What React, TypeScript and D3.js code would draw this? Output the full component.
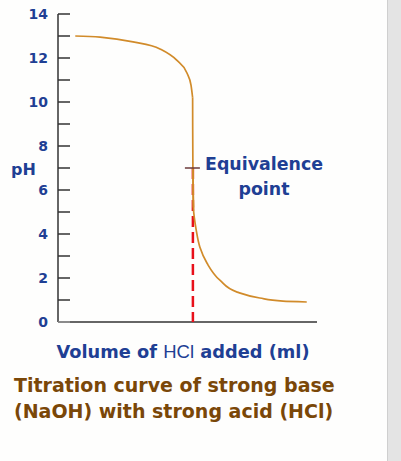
import React from "react";
import * as d3 from "d3";

const upperVolume = [3.2, 7.8, 13.9, 18.9, 22.0, 23.9, 24.65, 24.95, 25.0];
const upperPH = [13.0, 12.95, 12.73, 12.41, 11.9, 11.32, 10.77, 10.2, 7.0];
const lowerVolume = [25.0, 25.1, 25.6, 26.3, 27.6, 30.0, 33.2, 37.4, 41.7, 46.1];
const lowerPH = [7.0, 5.2, 4.2, 3.4, 2.68, 1.9, 1.36, 1.09, 0.95, 0.91];
const majorTicks = [0, 2, 4, 6, 8, 10, 12, 14];
const minorTicks = [1, 3, 5, 7, 9, 11, 13];
const equivalence = { volume: 25.0, pH: 7.0 };

export default function App() {
  const W = 401, H = 461;
  const x = d3.scaleLinear().domain([0, 48]).range([58, 317]);
  const y = d3.scaleLinear().domain([0, 14]).range([322, 14]);
  const line = d3.line<[number, number]>().x(d => x(d[0])).y(d => y(d[1])).curve(d3.curveMonotoneY);
  const lineUpper = d3.line<[number, number]>().x(d => x(d[0])).y(d => y(d[1])).curve(d3.curveMonotoneX);
  const upPts = upperVolume.slice(0, 8).map((v, i) => [v, upperPH[i]] as [number, number]);
  const lowPts = lowerVolume.slice(1).map((v, i) => [v, lowerPH[i + 1]] as [number, number]);
  const blue = "#1f3f94";
  const font = "DejaVu Sans, Verdana, sans-serif";
  const ex = x(equivalence.volume), ey = y(equivalence.pH);
  return (
    <svg width={W} height={H} style={{ position: "absolute", left: 0, top: 0 }} fontFamily={font}>
      <rect width={W} height={H} fill="#fefefd" />
      <rect x={387} y={0} width={14} height={H} fill="#e4e4e4" />
      <line x1={387.5} x2={387.5} y1={0} y2={H} stroke="#cfcfcf" />
      {/* axes */}
      <line x1={x(0)} x2={x(0)} y1={y(14)} y2={y(0)} stroke="#333" strokeWidth={1.5} />
      <line x1={x(0)} x2={317} y1={y(0)} y2={y(0)} stroke="#333" strokeWidth={1.5} />
      {[...majorTicks, ...minorTicks].map(t => (
        <line key={"t" + t} x1={x(0)} x2={x(0) + 12} y1={y(t)} y2={y(t)} stroke={t === 0 ? "#999" : "#333"} strokeWidth={1.5} />
      ))}
      {majorTicks.map(t => (
        <text key={"l" + t} x={48} y={y(t) + 5} textAnchor="end" fontSize={14} fontWeight="bold" fill={blue}>{t}</text>
      ))}
      <text x={11} y={175} fontSize={16} fontWeight="bold" fill={blue}>pH</text>
      {/* equivalence */}
      <line x1={ex} x2={ex} y1={ey} y2={y(0)} stroke="#e8101a" strokeWidth={2.5} strokeDasharray="11,5" />
      {/* curve */}
      <path d={lineUpper(upPts) ?? ""} fill="none" stroke="#d18b2a" strokeWidth={1.7} />
      <path d={line([[upperVolume[7], upperPH[7]], [equivalence.volume, equivalence.pH], [lowerVolume[1], lowerPH[1]]]) ?? ""} fill="none" stroke="#d18b2a" strokeWidth={1.7} />
      <path d={line([[equivalence.volume, equivalence.pH], ...lowPts]) ?? ""} fill="none" stroke="#d18b2a" strokeWidth={1.7} />
      <line x1={ex - 8} x2={ex + 7} y1={ey} y2={ey} stroke="#6b3a3a" strokeWidth={1.5} />
      <text x={264} y={170} textAnchor="middle" fontSize={17.4} fontWeight="bold" fill={blue}>Equivalence</text>
      <text x={264} y={195} textAnchor="middle" fontSize={17.4} fontWeight="bold" fill={blue}>point</text>
      <text x={183} y={358} textAnchor="middle" fontSize={17.8} fontWeight="bold" fill={blue}>
        Volume of <tspan fontWeight="normal" fontFamily="Liberation Sans, Arial, sans-serif" fontSize={18.5}>HCl</tspan> added (ml)
      </text>
      <text x={14} y={392} fontSize={19} fontWeight="bold" fill="#7a4708">Titration curve of strong base</text>
      <text x={14} y={418} fontSize={19} fontWeight="bold" fill="#7a4708">(NaOH) with strong acid (HCl)</text>
    </svg>
  );
}
